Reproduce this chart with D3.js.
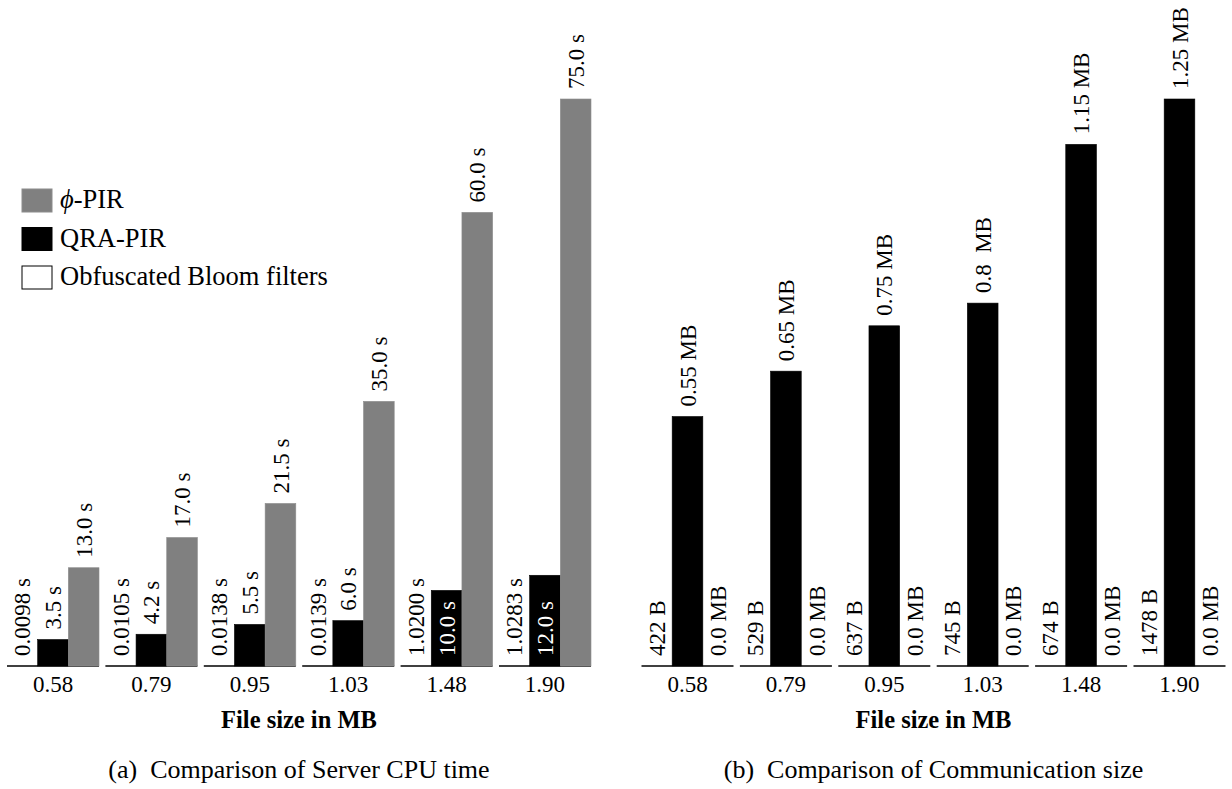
<!DOCTYPE html>
<html>
<head>
<meta charset="utf-8">
<script src="https://cdn.jsdelivr.net/npm/d3@7/dist/d3.min.js"></script>
<style>
  html, body { margin: 0; padding: 0; background: #fff; }
</style>
</head>
<body>
<svg id="chart" width="1232" height="789"></svg>
<script>
// File sizes (MB) on the x axis, shared by both panels
var fileSizes = ["0.58", "0.79", "0.95", "1.03", "1.48", "1.90"];

// (a) Server CPU time in seconds
var bloomTime = [0.0098, 0.0105, 0.0138, 0.0139, 1.0200, 1.0283];
var qraTime = [3.5, 4.2, 5.5, 6.0, 10.0, 12.0];
var phiTime = [13.0, 17.0, 21.5, 35.0, 60.0, 75.0];

// (b) Communication size
var bloomBytes = [422, 529, 637, 745, 674, 1478];
var qraMB = [0.55, 0.65, 0.75, 0.8, 1.15, 1.25];
var phiMB = [0.0, 0.0, 0.0, 0.0, 0.0, 0.0];

var seriesNames = ["bloom", "qra", "phi"];
var legendNames = ["phi", "qra", "bloom"];
var colors = { bloom: "#ffffff", qra: "#000000", phi: "#808080" };

var FONT = "Liberation Serif, Times New Roman, serif";
var NB = "\u00a0";
var svg = d3.select("#chart");
var FS = 23;        // label / tick font size
var GAP = 10;       // gap between bar top and its label
var baseY = 666, topY = 99;

// --------------------------------------------------------------
// One grouped bar panel
// --------------------------------------------------------------
function drawPanel(opts) {
    var g = svg.append("g");

    var x0 = d3.scaleBand().domain(fileSizes).range(opts.xRange).paddingInner(0.065);
    var x1 = d3.scaleBand().domain(seriesNames).range([0, x0.bandwidth()]);
    var y = d3.scaleLinear().domain([0, opts.yMax]).range([baseY, topY]);

    var rows = fileSizes.map(function(f, i) {
        return {
            size: f,
            bars: seriesNames.map(function(s) {
                return { key: s, value: opts.values[s][i], label: opts.labels[s][i] };
            })
        };
    });

    var group = g.selectAll("g.grp")
        .data(rows)
        .enter().append("g")
        .attr("class", "grp")
        .attr("transform", function(d) { return "translate(" + x0(d.size) + ",0)"; });

    // white (Bloom) bars sit flat on the axis, only the base line shows
    group.append("line")
        .attr("x1", 0)
        .attr("x2", x0.bandwidth())
        .attr("y1", y(0))
        .attr("y2", y(0))
        .attr("stroke", "#000")
        .attr("stroke-width", 1.3);

    group.selectAll("rect")
        .data(function(d) { return d.bars.filter(function(b) { return b.key != "bloom"; }); })
        .enter().append("rect")
        .attr("x", function(b) { return x1(b.key); })
        .attr("width", x1.bandwidth())
        .attr("y", function(b) { return y(b.value); })
        .attr("height", function(b) { return y(0) - y(b.value); })
        .attr("fill", function(b) { return colors[b.key]; })
        .attr("stroke", function(b) { return b.key == "phi" ? "#8c8c8c" : "#000"; })
        .attr("stroke-width", function(b) { return b.value == 0 ? 1.3 : 0.6; });

    group.selectAll("text.val")
        .data(function(d) { return d.bars; })
        .enter().append("text")
        .attr("class", "val")
        .attr("font-family", FONT)
        .attr("font-size", FS)
        .attr("transform", function(b) {
            var inside = opts.inside(b);
            var yy = (b.key == "bloom" || inside) ? y(0) - GAP : y(b.value) - GAP;
            return "translate(" + (x1(b.key) + x1.bandwidth() / 2) + "," + yy + ") rotate(-90)";
        })
        .attr("dy", "0.35em")
        .attr("fill", function(b) { return opts.inside(b) ? "#fff" : "#000"; })
        .text(function(b) { return b.label; });

    // x tick labels
    g.selectAll("text.tick")
        .data(fileSizes)
        .enter().append("text")
        .attr("class", "tick")
        .attr("font-family", FONT)
        .attr("font-size", FS)
        .attr("text-anchor", "middle")
        .attr("x", function(d) { return x0(d) + x0.bandwidth() / 2; })
        .attr("y", 692)
        .text(function(d) { return d; });

    var mid = (opts.xRange[0] + opts.xRange[1]) / 2;
    g.append("text")
        .attr("font-family", FONT)
        .attr("font-size", 24.5)
        .attr("font-weight", "bold")
        .attr("text-anchor", "middle")
        .attr("x", mid)
        .attr("y", 728)
        .text("File size in MB");

    g.append("text")
        .attr("font-family", FONT)
        .attr("font-size", 26)
        .attr("text-anchor", "middle")
        .attr("x", mid)
        .attr("y", 778)
        .text(opts.caption);
}

function fmtS(d, digits) { return d.toFixed(digits) + NB + "s"; }

drawPanel({
    xRange: [7, 591],
    yMax: 75,
    values: { bloom: bloomTime, qra: qraTime, phi: phiTime },
    labels: {
        bloom: bloomTime.map(function(d) { return fmtS(d, 4); }),
        qra: qraTime.map(function(d) { return fmtS(d, 1); }),
        phi: phiTime.map(function(d) { return fmtS(d, 1); })
    },
    // tall QRA bars carry their label inside, in white
    inside: function(b) { return b.key == "qra" && b.value >= 10; },
    caption: "(a)" + NB + NB + "Comparison of Server CPU time"
});

drawPanel({
    xRange: [641.5, 1225.5],
    yMax: 1.25,
    values: { bloom: bloomBytes.map(function(d) { return d / 1e6; }), qra: qraMB, phi: phiMB },
    labels: {
        bloom: bloomBytes.map(function(d) { return d + NB + "B"; }),
        qra: qraMB.map(function(d) { return d == 0.8 ? "0.8" + NB + NB + "MB" : d + NB + "MB"; }),
        phi: phiMB.map(function(d) { return d.toFixed(1) + NB + "MB"; })
    },
    inside: function(b) { return false; },
    caption: "(b)" + NB + NB + "Comparison of Communication size"
});

// --------------------------------------------------------------
// Legend (left panel)
// --------------------------------------------------------------
var legend = svg.append("g").attr("transform", "translate(22,189)");
var item = legend.selectAll("g")
    .data(legendNames)
    .enter().append("g")
    .attr("transform", function(d, i) { return "translate(0," + (i * 38.5) + ")"; });

item.append("rect")
    .attr("width", 30)
    .attr("height", 23)
    .attr("fill", function(d) { return colors[d]; })
    .attr("stroke", function(d) { return d == "phi" ? "#8c8c8c" : "#000"; })
    .attr("stroke-width", 1);

var lt = item.append("text")
    .attr("font-family", FONT)
    .attr("x", 38)
    .attr("y", 19)
    .attr("font-size", 26.5);
lt.each(function(d) {
    var t = d3.select(this);
    if (d == "phi") {
        t.append("tspan").attr("font-style", "italic").text("\u03D5");
        t.append("tspan").text("-PIR");
    } else if (d == "qra") {
        t.text("QRA-PIR");
    } else {
        t.text("Obfuscated Bloom filters");
    }
});
</script>
</body>
</html>
